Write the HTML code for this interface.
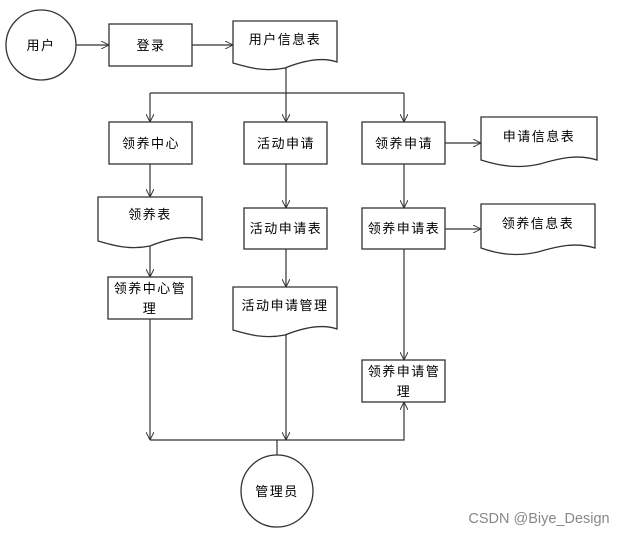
<!DOCTYPE html>
<html><head><meta charset="utf-8"><style>
html,body{margin:0;padding:0;background:#fff}
svg{display:block}
text{font-family:"Liberation Sans","Noto Sans CJK SC",sans-serif;font-size:13px;fill:#000;text-anchor:middle;letter-spacing:1.5px}
</style></head><body>
<svg width="630" height="537" viewBox="0 0 630 537" xmlns="http://www.w3.org/2000/svg">
<defs>
<marker id="a" viewBox="0 0 10 10" refX="10" refY="5" markerWidth="8" markerHeight="8" orient="auto" markerUnits="userSpaceOnUse">
<path d="M0,0 L10,5 L0,10" fill="none" stroke="#333" stroke-width="1.2"/>
</marker>
</defs>
<g fill="#fff" stroke="#333" stroke-width="1.3">
<circle cx="41" cy="45" r="35"/>
<rect x="109" y="24" width="83" height="42"/>
<path d="M233,21 H337 V62 C320,56 300,62 285,68 C265,72 250,68 233,63 Z"/>
<rect x="109" y="122" width="83" height="42"/>
<rect x="244" y="122" width="83" height="42"/>
<rect x="362" y="122" width="83" height="42"/>
<path d="M481,117 H597 V160 C578,154 560,158 540,164 C518,169 500,166 481,160 Z"/>
<path d="M98,197 H202 V240 C185,234 165,240 150,246 C130,250 115,246 98,241 Z"/>
<rect x="244" y="208" width="83" height="41"/>
<rect x="362" y="208" width="83" height="41"/>
<path d="M481,204 H595 V248 C576,242 558,246 538,252 C516,257 498,254 481,248 Z"/>
<rect x="108" y="277" width="84" height="42"/>
<path d="M233,287 H337 V329 C320,323 300,329 285,335 C265,339 250,335 233,330 Z"/>
<rect x="362" y="360" width="83" height="42"/>
<circle cx="277" cy="491" r="36"/>
</g>
<g fill="none" stroke="#333" stroke-width="1.2">
<line x1="76" y1="45" x2="109" y2="45" marker-end="url(#a)"/>
<line x1="192" y1="45" x2="233" y2="45" marker-end="url(#a)"/>
<line x1="286" y1="68" x2="286" y2="122" marker-end="url(#a)"/>
<path d="M150,93 H404"/>
<line x1="150" y1="93" x2="150" y2="122" marker-end="url(#a)"/>
<line x1="404" y1="93" x2="404" y2="122" marker-end="url(#a)"/>
<line x1="445" y1="143" x2="481" y2="143" marker-end="url(#a)"/>
<line x1="150" y1="164" x2="150" y2="197" marker-end="url(#a)"/>
<line x1="286" y1="164" x2="286" y2="208" marker-end="url(#a)"/>
<line x1="404" y1="164" x2="404" y2="208" marker-end="url(#a)"/>
<line x1="445" y1="229" x2="481" y2="229" marker-end="url(#a)"/>
<line x1="150" y1="246" x2="150" y2="277" marker-end="url(#a)"/>
<line x1="286" y1="249" x2="286" y2="287" marker-end="url(#a)"/>
<line x1="404" y1="249" x2="404" y2="360" marker-end="url(#a)"/>
<line x1="150" y1="319" x2="150" y2="440" marker-end="url(#a)"/>
<line x1="286" y1="334" x2="286" y2="440" marker-end="url(#a)"/>
<path d="M150,440 H404 V402" marker-end="url(#a)"/>
<line x1="277" y1="440" x2="277" y2="455"/>
</g>
<text x="41" y="50">用户</text>
<text x="151" y="50">登录</text>
<text x="285" y="44">用户信息表</text>
<text x="151" y="148">领养中心</text>
<text x="286" y="148">活动申请</text>
<text x="404" y="148">领养申请</text>
<text x="539" y="141">申请信息表</text>
<text x="150" y="219">领养表</text>
<text x="286" y="233">活动申请表</text>
<text x="404" y="233">领养申请表</text>
<text x="538" y="228">领养信息表</text>
<text x="150" y="293">领养中心管</text>
<text x="150" y="313">理</text>
<text x="285" y="310">活动申请管理</text>
<text x="404" y="376">领养申请管</text>
<text x="404" y="396">理</text>
<text x="277" y="496">管理员</text>
<text x="539" y="523" style="fill:#888;font-size:14.5px;letter-spacing:0">CSDN @Biye_Design</text>
</svg>
</body></html>
